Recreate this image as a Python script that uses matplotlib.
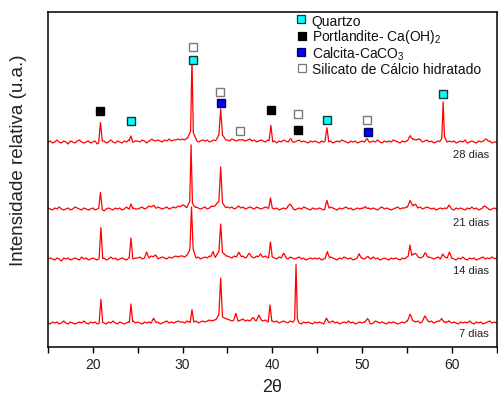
import numpy as np
import matplotlib
matplotlib.use("Agg")
import matplotlib.pyplot as plt

plt.rcParams['font.family'] = ['Liberation Sans', 'DejaVu Sans']
plt.rcParams['mathtext.fontset'] = 'custom'
plt.rcParams['mathtext.rm'] = 'Liberation Sans'
plt.rcParams['mathtext.it'] = 'Liberation Sans:italic'

# ---------------- data ----------------
ages = ["7 dias", "14 dias", "21 dias", "28 dias"]
offsets = [24, 88, 138, 205]          # vertical stacking of the patterns
label_y = [13, 76, 124, 192]

# baseline fluctuation sampled every 0.25 deg from 15 to 65 (201 values)
w7 = [0,-1, 1, 0, 1,-1, 0, 2, 0,-1, 1, 0,-1, 0, 1, 0, 2, 0,-1, 1,
      0, 1,-1, 0, 1, 0,-1, 1, 0, 2, 0,-1, 1, 0,-1, 0, 1, 0, 2, 0,
      1, 0,-1, 1, 0, 1, 0, 2, 0, 1,-1, 0, 1, 2, 0, 1, 0, 1, 2, 1,
      1, 0, 2, 1, 0, 1, 2, 0, 1, 2, 1, 2, 3, 2, 3, 2, 4, 3, 2, 3,
      4, 3, 2, 3, 1, 2, 3, 4, 2, 3, 2, 1, 3, 2, 4, 3, 2, 3, 1, 2,
      2, 1, 2, 0, 1, 2, 1, 0, 2, 1, 0, 1, 0,-1, 1, 0, 1, 0,-1, 1,
      0, 1, 0,-1, 1, 0, 1, 2, 0, 1,-1, 0, 1, 0, 2, 0, 1,-1, 0, 1,
      0, 1, 0, 1,-1, 0, 2, 1, 0, 1, 0,-1, 1, 0, 1, 0,-1, 0, 1, 0,
      2, 1, 3, 2, 1, 2, 0, 1, 2, 3, 1, 2, 0, 1, 2, 1, 0, 1, 0,-1,
      0, 1, 0,-1, 1, 0, 1, 0, 2, 0,-1, 1, 0, 1,-1, 0, 1, 2, 0, 1,
      0]
w14 = [0, 1, 0,-1, 1, 0,-2, 1, 0, 1,-1, 0, 1, 0,-1, 2, 0, 1,-1, 0,
       1, 0,-1, 1, 0, 1,-1, 0, 2, 0, 1,-1, 0, 1, 0,-1, 1, 2, 0, 1,
       1, 2, 0, 1, 2, 1, 3, 2, 1, 0, 1, 2, 1, 0, 2, 1, 2, 3, 2, 3,
       3, 2, 4, 2, 3, 2, 1, 2, 0, 1, 2, 1, 3, 2, 1, 2, 3, 1, 2, 3,
       3, 2, 1, 3, 2, 4, 2, 3, 1, 2, 3, 2, 1, 3, 2, 1, 2, 3, 1, 2,
       2, 1, 0, 2, 1, 3, 1, 0, 2, 1, 0, 1, 2, 0, 1,-1, 0, 1, 0, 1,
       0, 1,-1, 0, 1, 0, 2, 1, 0,-1, 1, 0, 2, 1, 0, 1,-1, 0, 1, 0,
       1, 0, 1,-1, 0, 2, 0, 1,-1, 0, 1, 0,-1, 1, 0, 1, 0,-1, 1, 0,
       2, 3, 2, 1, 3, 2, 1, 2, 3, 1, 2, 1, 0, 1, 2, 0, 1, 2, 1, 0,
       1, 0,-1, 1, 0, 2, 0,-1, 1, 0, 1,-1, 0, 1, 2, 0, 1, 0,-1, 0,
       1]
w21 = [1, 0,-1, 1, 0, 2, 0,-1, 0, 1,-1, 0, 2, 1, 0,-1, 1, 0,-1, 0,
       1,-1, 0, 1, 0,-2, 0, 1, 0,-1, 1, 0, 1,-1, 0, 2, 0,-1, 1, 0,
       0, 1, 2, 0, 1, 3, 2, 1, 0, 2, 1, 0, 1, 2, 0, 1, 2, 1, 3, 2,
       2, 3, 1, 2, 1, 0, 2, 1, 0, 1, 2, 0, 1, 3, 2, 1, 2, 3, 2, 1,
       2, 1, 2, 0, 1, 3, 1, 2, 0, 1, 2, 1, 0, 2, 1, 0, 1, 2, 1, 0,
       1, 0, 1,-1, 0, 1, 0, 2, 0, 1,-1, 0, 1, 0, 2, 1, 0,-1, 1, 0,
       0, 1, 0,-1, 1, 0, 2, 1, 0,-1, 1, 0, 1, 2, 0, 1,-1, 0, 1, 0,
       1, 0,-1, 1, 0, 1, 0,-1, 1, 2, 0, 1, 0,-1, 0, 1, 2, 0, 1, 1,
       2, 1, 2, 1, 3, 1, 2, 0, 1, 2, 1, 0, 1,-1, 0, 1, 0, 1, 0, 1,
       0,-1, 1, 0, 1, 0,-1, 1, 0, 2, 0, 1,-1, 0, 1, 0, 1,-1, 0, 1,
       0]
w28 = [0, 1,-1, 0, 2, 0,-1, 1, 0,-2, 1, 0,-1, 1, 2, 0,-1, 0, 1,-1,
       0, 1,-2, 0, 1, 1,-1, 0, 2, 0,-1, 1, 0,-1, 1, 0, 2,-1, 0, 1,
       1, 0, 2, 1,-1, 1, 2, 0, 1, 2, 1, 0, 2, 1, 3, 1, 2, 2, 3, 2,
       3, 2, 4, 3, 2, 1, 2, 0, 1, 2, 1, 2, 0, 1, 2, 1, 3, 2, 3, 2,
       2, 1, 3, 2, 1, 2, 0, 2, 1, 2, 3, 1, 2, 0, 1, 2, 1, 0, 2, 1,
       0, 1,-1, 1, 0, 2, 1, 0, 1,-1, 0, 1, 2, 0, 1, 0,-1, 1, 0, 1,
       0,-1, 1, 0, 2, 0, 1,-1, 0, 1, 0, 2, 1, 0,-1, 1, 0, 1,-1, 0,
       1, 0, 1,-1, 0, 1, 0, 2, 0,-1, 1, 0, 1, 0, 2, 1, 0,-1, 1, 0,
       1, 2, 1, 3, 2, 1, 2, 0, 1, 2, 0, 1,-1, 0, 1, 0, 1, 2, 0, 1,
       0, 1,-1, 0, 1, 0, 2,-1, 0, 1, 0,-1, 1, 0, 1, 2, 0, 1,-1, 0,
       0]

# reflections: (2theta, height, half width)
peaks7 = [(20.9, 23, 0.2), (24.25, 19, 0.18), (26.8, 3, 0.3), (31.05, 13, 0.2),
          (34.25, 36, 0.2), (34.25, 6, 0.7), (35.95, 8, 0.25), (37.8, 4, 0.3),
          (38.5, 4, 0.3), (39.75, 16, 0.2), (42.65, 52, 0.15), (42.65, 6, 0.35),
          (46.05, 4, 0.3), (50.6, 4, 0.3), (55.35, 7, 0.3), (57.0, 5, 0.3),
          (58.9, 4, 0.3), (59.7, 3, 0.3)]
peaks14 = [(20.9, 31, 0.2), (24.25, 19, 0.2), (26.0, 5, 0.25), (27.0, 3, 0.3),
           (31.0, 37, 0.18), (31.0, 12, 0.5), (33.4, 6, 0.25), (34.25, 27, 0.2),
           (34.25, 7, 0.6), (36.3, 3, 0.3), (37.4, 3, 0.3), (38.7, 4, 0.25),
           (39.8, 15, 0.2), (41.3, 3, 0.3), (46.15, 7, 0.25), (49.7, 5, 0.25),
           (50.7, 3, 0.3), (55.35, 11, 0.2), (55.8, 4, 0.5), (57.1, 4, 0.3),
           (59.0, 4, 0.25), (59.75, 7, 0.25), (64.5, 3, 0.3)]
peaks21 = [(20.85, 16, 0.2), (24.25, 6, 0.2), (26.8, 3, 0.3), (30.0, 2, 0.3),
           (30.95, 55, 0.15), (30.95, 8, 0.5), (33.8, 3, 0.4), (34.25, 33, 0.2),
           (34.25, 6, 0.6), (39.8, 11, 0.2), (42.0, 5, 0.3), (46.1, 8, 0.25),
           (50.4, 3, 0.3), (55.35, 7, 0.3), (55.8, 3, 0.4), (59.7, 3, 0.3),
           (63.7, 3, 0.3)]
peaks28 = [(20.85, 19, 0.2), (24.25, 7, 0.2), (26.7, 2, 0.3), (31.05, 70, 0.15),
           (31.05, 12, 0.5), (34.25, 25, 0.2), (34.25, 6, 0.6), (36.5, 2, 0.3),
           (39.85, 16, 0.2), (42.1, 3, 0.3), (46.1, 13, 0.2), (50.6, 3, 0.3),
           (55.4, 5, 0.3), (56.3, 2, 0.3), (59.05, 34, 0.15), (59.05, 5, 0.4),
           (63.9, 2, 0.3)]

wiggles = [w7, w14, w21, w28]
peak_lists = [peaks7, peaks14, peaks21, peaks28]

# phase markers (2theta, stacked level)
quartz_x = [24.25, 31.2, 46.1, 59.0]
quartz_y = [226, 287, 227, 253]
port_x = [20.85, 39.85, 42.9]
port_y = [236, 237, 217]
calc_x = [34.25, 50.65]
calc_y = [244, 215]
csh_x = [31.2, 34.2, 36.45, 42.85, 50.6]
csh_y = [300, 255, 216, 233, 227]

phase_labels = ["Quartzo", r"Portlandite- Ca(OH)$_2$", r"Calcita-CaCO$_3$",
                "Silicato de Cálcio hidratado"]
xticks = [20, 30, 40, 50, 60]

# ---------------- figure ----------------
W, H = 498, 398
AX_L, AX_B, AX_W, AX_H = 48, 51, 448.5, 335
fig = plt.figure(figsize=(W / 100, H / 100), dpi=100)
ax = fig.add_axes([AX_L / W, AX_B / H, AX_W / W, AX_H / H])

grid = np.linspace(15, 65, 201)


def build(wig, peaks):
    pts = [grid] + [np.array([c - hw, c, c + hw]) for c, h, hw in peaks]
    x = np.unique(np.concatenate(pts))
    y = np.interp(x, grid, np.asarray(wig, float))
    for c, h, hw in peaks:
        y = y + np.interp(x, [c - hw, c, c + hw], [0, h, 0], left=0, right=0)
    return x, y


for name, off, ly, wig, pk in zip(ages, offsets, label_y, wiggles, peak_lists):
    x, y = build(wig, pk)
    ax.plot(x, y + off, color='#ff0000', lw=0.9)
    ax.text(64.15, ly, name, ha='right', va='center', fontsize=8, color='#222222')

styles = [dict(mfc='#00ffff', mec='#1a3333'),
          dict(mfc='#000000', mec='#000000'),
          dict(mfc='#0000ff', mec='#000055'),
          dict(mfc='#ffffff', mec='#7a7a7a')]
ms = 6
for (px, py), st in zip([(quartz_x, quartz_y), (port_x, port_y),
                         (calc_x, calc_y), (csh_x, csh_y)], styles):
    ax.plot(px, py, 's', ms=ms, mew=1, ls='none', **st)


# manual legend (pixel layout of the reference)
def to_axes(px, py):
    return (px - AX_L) / AX_W, (H - AX_B - py) / AX_H


leg_marker = [(300.7, 19.0), (301.5, 36.0), (301.0, 52.0), (301.5, 68.5)]
leg_base = [26.0, 41.0, 58.5, 74.5]
for (mx, my), by, lab, st in zip(leg_marker, leg_base, phase_labels, styles):
    ax.plot(*to_axes(mx, my), 's', ms=5.5, mew=0.9, transform=ax.transAxes,
            clip_on=False, **st)
    tx, ty = to_axes(311.5, by)
    ax.text(tx, ty, lab, transform=ax.transAxes, ha='left', va='baseline',
            fontsize=10, color='#111111')

ax.set_xlim(15, 65)
ax.set_ylim(0, 335)
ax.set_xticks(xticks)
ax.set_xticks([15, 25, 35, 45, 55, 65], minor=True)
ax.set_yticks([])
ax.tick_params(axis='x', which='both', direction='out', length=4, width=1,
               labelsize=10, pad=4, labelcolor='#222222', top=False)
for s in ax.spines.values():
    s.set_linewidth(1.1)

fig.text(272 / W, 1 - 387 / H, "2θ", ha='center', va='center', fontsize=13, color='#222222')
fig.text(19 / W, 1 - 160 / H, "Intensidade relativa (u.a.)", rotation=90,
         ha='center', va='center', fontsize=13.5, color='#222222')

fig.savefig("out.png", dpi=100)
